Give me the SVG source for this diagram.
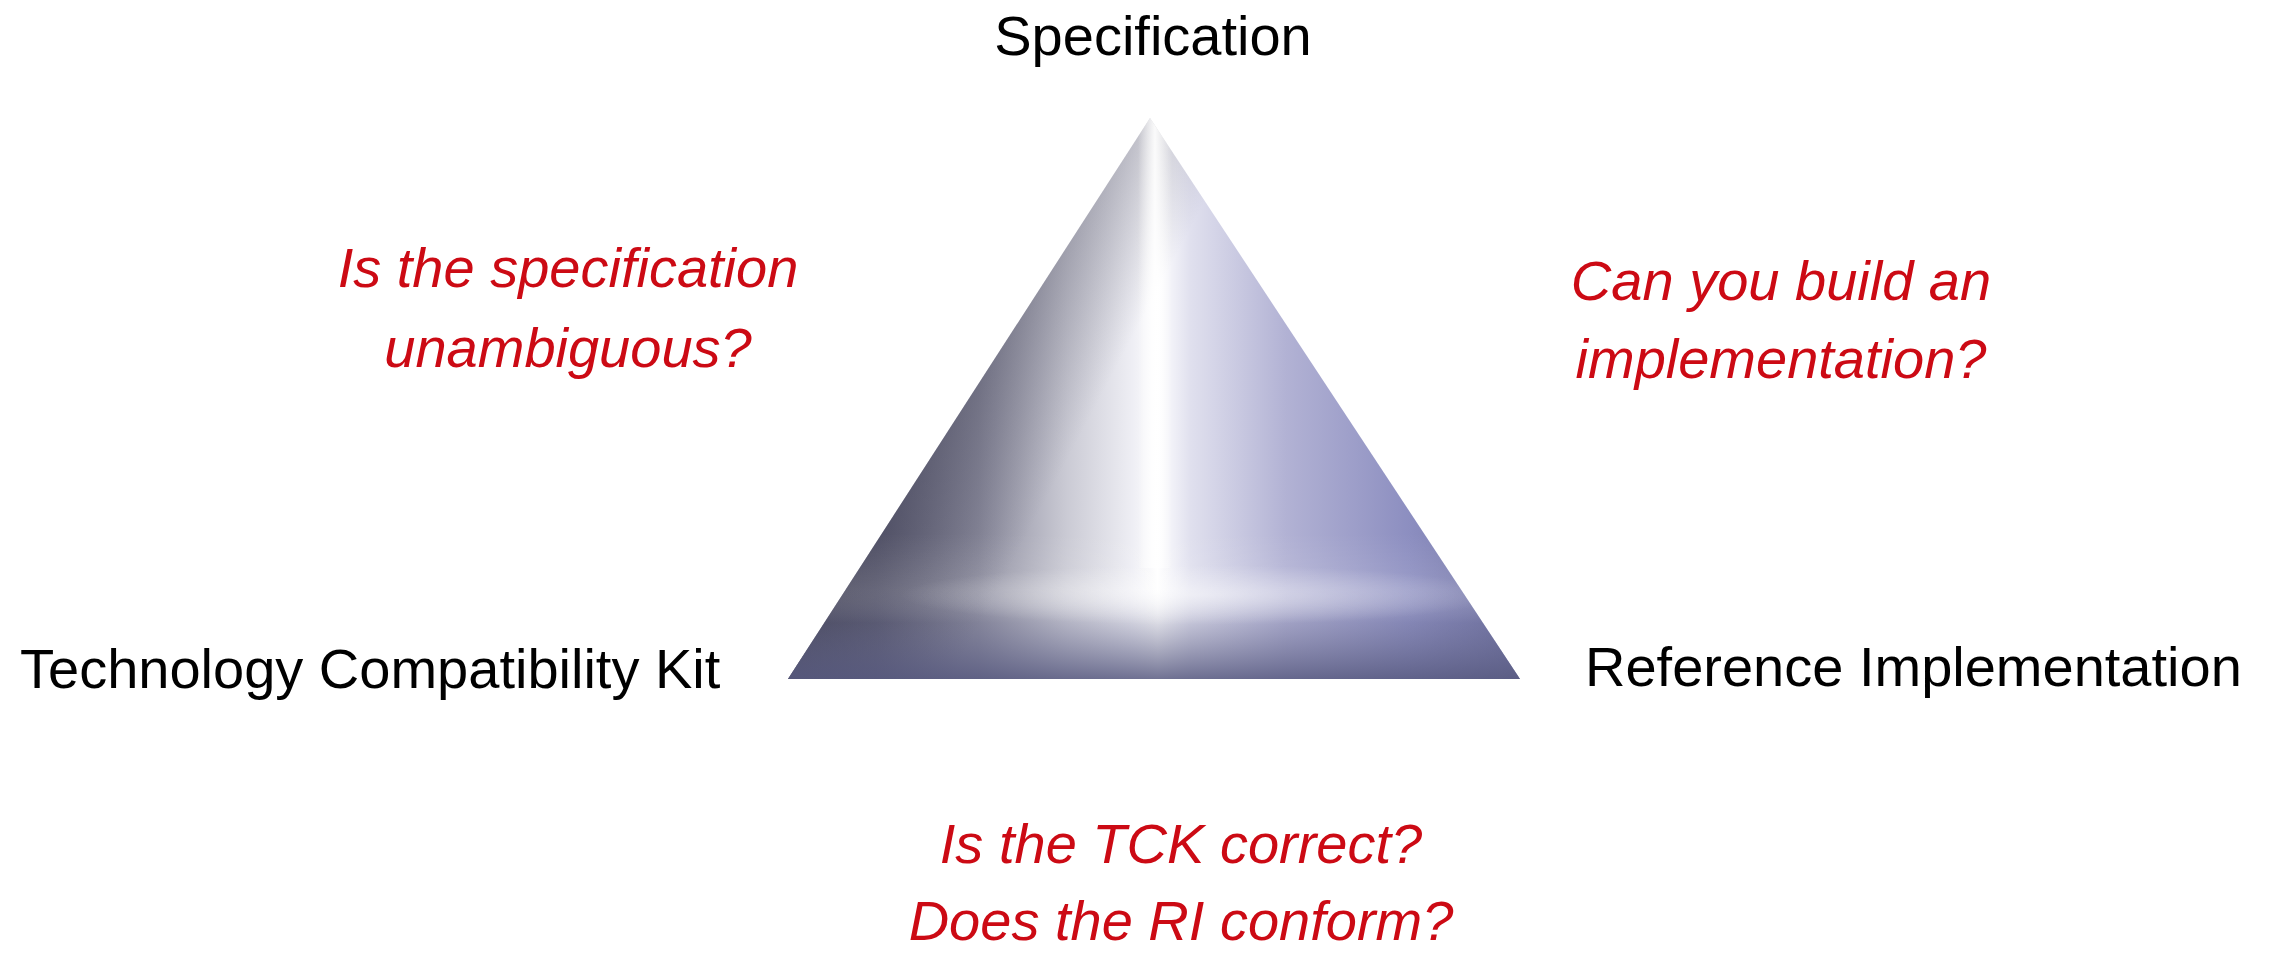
<svg xmlns="http://www.w3.org/2000/svg" width="2282" height="954" viewBox="0 0 2282 954">
  <style>
    .label { font-family: "Liberation Sans", Arial, sans-serif; font-size: 56px; fill: #000; }
    .q { font-family: "Liberation Sans", Arial, sans-serif; font-size: 56px; font-style: italic; fill: #cc0a14; text-anchor: middle; }
  </style>
  <defs>
    <clipPath id="tri">
      <polygon points="1150,118 788,679 1520,679"/>
    </clipPath>
    <linearGradient id="gH" gradientUnits="userSpaceOnUse" x1="788" y1="0" x2="1520" y2="0">
      <stop offset="0" stop-color="#4a4a5e"/>
      <stop offset="0.12" stop-color="#5c5c72"/>
      <stop offset="0.26" stop-color="#8a8a9c"/>
      <stop offset="0.38" stop-color="#cacad4"/>
      <stop offset="0.47" stop-color="#eeeef4"/>
      <stop offset="0.505" stop-color="#ffffff"/>
      <stop offset="0.55" stop-color="#e0e0ee"/>
      <stop offset="0.68" stop-color="#b2b2d4"/>
      <stop offset="0.85" stop-color="#8c8ec0"/>
      <stop offset="1" stop-color="#6c6e9e"/>
    </linearGradient>
    <linearGradient id="gV" gradientUnits="userSpaceOnUse" x1="0" y1="118" x2="0" y2="679">
      <stop offset="0" stop-color="#ffffff" stop-opacity="0"/>
      <stop offset="0.74" stop-color="#ffffff" stop-opacity="0"/>
      <stop offset="0.84" stop-color="#ffffff" stop-opacity="0.12"/>
      <stop offset="0.90" stop-color="#6a6c90" stop-opacity="0.25"/>
      <stop offset="1" stop-color="#585a80" stop-opacity="0.85"/>
    </linearGradient>
    <linearGradient id="streak" gradientUnits="userSpaceOnUse" x1="1138" y1="0" x2="1172" y2="0">
      <stop offset="0" stop-color="#ffffff" stop-opacity="0"/>
      <stop offset="0.5" stop-color="#ffffff" stop-opacity="0.9"/>
      <stop offset="1" stop-color="#ffffff" stop-opacity="0"/>
    </linearGradient>
    <linearGradient id="leftDark" gradientUnits="userSpaceOnUse" x1="960" y1="300" x2="1110" y2="380">
      <stop offset="0" stop-color="#3e3e52" stop-opacity="0.5"/>
      <stop offset="1" stop-color="#3e3e52" stop-opacity="0"/>
    </linearGradient>
    <radialGradient id="band" gradientUnits="userSpaceOnUse" cx="1200" cy="595" r="300" gradientTransform="translate(1200 595) scale(1 0.1) translate(-1200 -595)">
      <stop offset="0" stop-color="#ffffff" stop-opacity="0.45"/>
      <stop offset="1" stop-color="#ffffff" stop-opacity="0"/>
    </radialGradient>
  </defs>

  <rect width="2282" height="954" fill="#ffffff"/>

  <g id="triangle">
    <polygon points="1150,118 788,679 1520,679" fill="url(#gH)"/>
    <g clip-path="url(#tri)">
      <rect x="780" y="110" width="760" height="580" fill="url(#leftDark)"/>
      <rect x="780" y="110" width="760" height="580" fill="url(#gV)"/>
      <rect x="780" y="500" width="760" height="200" fill="url(#band)"/>
      <rect x="1138" y="118" width="34" height="450" fill="url(#streak)"/>
    </g>
  </g>

  <g id="node-specification">
    <text class="label" x="1153" y="55" text-anchor="middle">Specification</text>
  </g>
  <g id="node-tck">
    <text class="label" x="20" y="688">Technology Compatibility Kit</text>
  </g>
  <g id="node-ri">
    <text class="label" x="1585" y="686">Reference Implementation</text>
  </g>

  <g id="question-spec">
    <text class="q" x="568" y="287">Is the specification</text>
    <text class="q" x="568" y="367">unambiguous?</text>
  </g>
  <g id="question-impl">
    <text class="q" x="1781" y="300">Can you build an</text>
    <text class="q" x="1781" y="378">implementation?</text>
  </g>
  <g id="question-tck">
    <text class="q" x="1181" y="863">Is the TCK correct?</text>
    <text class="q" x="1181" y="940">Does the RI conform?</text>
  </g>
</svg>
